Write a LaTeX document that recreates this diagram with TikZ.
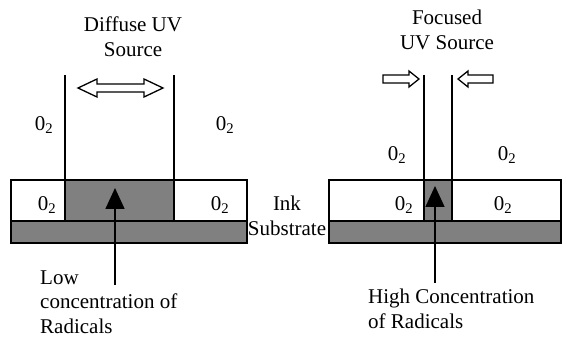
\documentclass[tikz,border=0pt]{standalone}
\usepackage{fontspec}
\setmainfont{Liberation Serif}
\usetikzlibrary{arrows.meta,positioning}

\newcommand{\otwo}{0\textsubscript{2}}

\begin{document}
\begin{tikzpicture}[
  x=1pt,y=-1pt,
  line join=miter,
  font=\fontsize{21}{25}\selectfont,
  wall/.style={draw=black,line width=1.5pt},
  layer/.style={draw=black,line width=1.5pt},
  lit/.style={fill=black!50},
  blockarrow/.style={draw=black,fill=white,line width=1.3pt},
  pointer/.style={draw=black,line width=1.5pt,-{Triangle[width=19pt,length=21pt]}},
  lbl/.style={inner sep=0pt,align=left}
]
\useasboundingbox (0,0) rectangle (562,339);

% Diffuse UV source
\begin{scope}
  \def\xa{65}
  \def\xb{174}

  % exposed ink and substrate
  \fill[lit] (\xa,180) rectangle (\xb,221);
  \draw[layer] (11,180) rectangle (247,221);
  \draw[layer,lit] (11,221) rectangle (247,243);

  % walls of the beam
  \draw[wall] (\xa,75) -- (\xa,221);
  \draw[wall] (\xb,75) -- (\xb,221);

  % spread of the beam
  \draw[blockarrow] (78,88) -- (97,79) -- (97,84) -- (144,84) -- (144,79)
    -- (163,88) -- (144,97) -- (144,92) -- (97,92) -- (97,97) -- cycle;

  \node (diffuse) [align=center,inner sep=0pt] at (133,37) {Diffuse UV\\Source};
  \node (airL) at (44,125) {\otwo};
  \node (airR) at (225,125) {\otwo};
  \node (inkL) at (47,205) {\otwo};
  \node (inkR) at (220,205) {\otwo};

  \node (low) [lbl,anchor=west,font=\fontsize{21}{24.5}\selectfont] at (40,302) {Low\\concentration of\\Radicals};
  \coordinate (lowfoot) at (115,285);
  \coordinate (lowtip) at (115,188);
  \draw[pointer] (lowfoot) -- (lowtip);
\end{scope}

% layer names
\node (layers) [align=center,inner sep=0pt] at (287,216) {Ink\\Substrate};

% Focused UV source
\begin{scope}
  \def\xa{424}
  \def\xb{452}

  % exposed ink and substrate
  \fill[lit] (\xa,180) rectangle (\xb,221);
  \draw[layer] (329,180) rectangle (561,221);
  \draw[layer,lit] (329,221) rectangle (561,243);

  % walls of the beam
  \draw[wall] (\xa,75) -- (\xa,221);
  \draw[wall] (\xb,75) -- (\xb,221);

  % squeezing of the beam
  \draw[blockarrow] (383,75) -- (409,75) -- (409,71) -- (419,79)
    -- (409,87) -- (409,83) -- (383,83) -- cycle;
  \draw[blockarrow] (493,75) -- (468,75) -- (468,71) -- (458,79)
    -- (468,87) -- (468,83) -- (493,83) -- cycle;

  \node (focused) [align=center,inner sep=0pt] at (447,30) {Focused\\UV Source};
  \node (airL2) at (397,155) {\otwo};
  \node (airR2) at (507,155) {\otwo};
  \node (inkL2) at (404,205) {\otwo};
  \node (inkR2) at (503,205) {\otwo};

  \node (high) [lbl,anchor=west] at (368,309) {High Concentration\\of Radicals};
  \coordinate (highfoot) at (435,283);
  \coordinate (hightip) at (435,186);
  \draw[pointer] (highfoot) -- (hightip);
\end{scope}

\end{tikzpicture}
\end{document}
